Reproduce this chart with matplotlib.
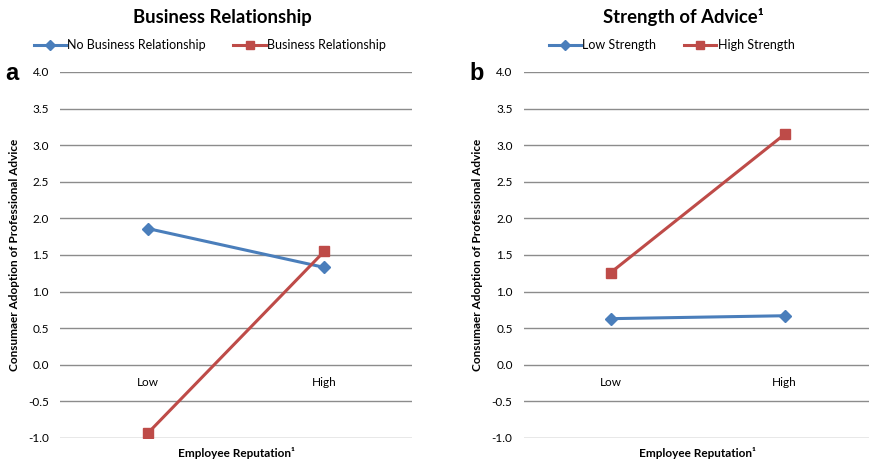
import matplotlib
matplotlib.use("Agg")
import matplotlib.pyplot as plt

# data
categories = ["Low", "High"]

panel_a_title = "Business Relationship"
panel_a_labels = ["No Business Relationship", "Business Relationship"]
panel_a_no_rel = [1.86, 1.33]
panel_a_rel = [-0.93, 1.55]

panel_b_title = "Strength of Advice\u00b9"
panel_b_labels = ["Low Strength", "High Strength"]
panel_b_low = [0.63, 0.67]
panel_b_high = [1.26, 3.15]

y_ticks = [-1.0, -0.5, 0.0, 0.5, 1.0, 1.5, 2.0, 2.5, 3.0, 3.5, 4.0]

BLUE = "#4a7ebb"
RED = "#be4b48"
GRID = "#8c8c8c"
FONT = ["Lato", "DejaVu Sans"]

plt.rcParams["font.family"] = FONT

fig = plt.figure(figsize=(8.7, 4.61), dpi=100)
ax_a = fig.add_axes([0.069, 0.0499, 0.405, 0.794])
ax_b = fig.add_axes([0.602, 0.0499, 0.400, 0.794])


def draw_panel(ax, title, labels, s1, s2, letter):
    x = [0.5, 1.5]
    l1, = ax.plot(x, s1, color=BLUE, lw=2.2, marker="D", ms=6, label=labels[0],
                  zorder=3)
    l2, = ax.plot(x, s2, color=RED, lw=2.2, marker="s", ms=7, label=labels[1],
                  zorder=3)
    ax.set_xlim(0, 2)
    ax.set_ylim(-1, 4)
    ax.set_yticks(y_ticks)
    ax.set_yticklabels([f"{v:.1f}" for v in y_ticks], fontsize=8.5)
    ax.yaxis.grid(True, color=GRID, lw=1)
    ax.set_axisbelow(True)
    for s in ax.spines.values():
        s.set_visible(False)
    ax.tick_params(axis="y", length=0, pad=8)
    # category labels sit just under the zero line, Excel style
    ax.spines["bottom"].set_position(("data", 0))
    ax.set_xticks(x)
    ax.set_xticklabels(categories, fontsize=8.5)
    ax.tick_params(axis="x", length=0, pad=9)
    ax.text(0.5, -0.025, "Employee Reputation\u00b9", transform=ax.transAxes,
            ha="center", va="top", fontsize=8.5, fontweight="bold")
    ax.text(0.46, 1.15, title, transform=ax.transAxes, ha="center", va="center",
            fontsize=13.3, fontweight="bold")
    ax.legend(handles=[l1, l2], loc="center", bbox_to_anchor=(0.425, 1.074),
              ncol=2, frameon=False, fontsize=9, handlelength=2.6,
              handletextpad=0.1, columnspacing=2.2, markerscale=0.85)
    ax.set_ylabel("Consumaer Adoption of Professional Advice", fontsize=8.5,
                  fontweight="bold", labelpad=6)
    ax.text(-0.155, 0.995, letter, transform=ax.transAxes, ha="left",
            va="center", fontsize=17, fontweight="bold",
            family=["Liberation Sans", "DejaVu Sans"])


draw_panel(ax_a, panel_a_title, panel_a_labels, panel_a_no_rel, panel_a_rel, "a")
draw_panel(ax_b, panel_b_title, panel_b_labels, panel_b_low, panel_b_high, "b")

fig.savefig("out.png", dpi=100)
